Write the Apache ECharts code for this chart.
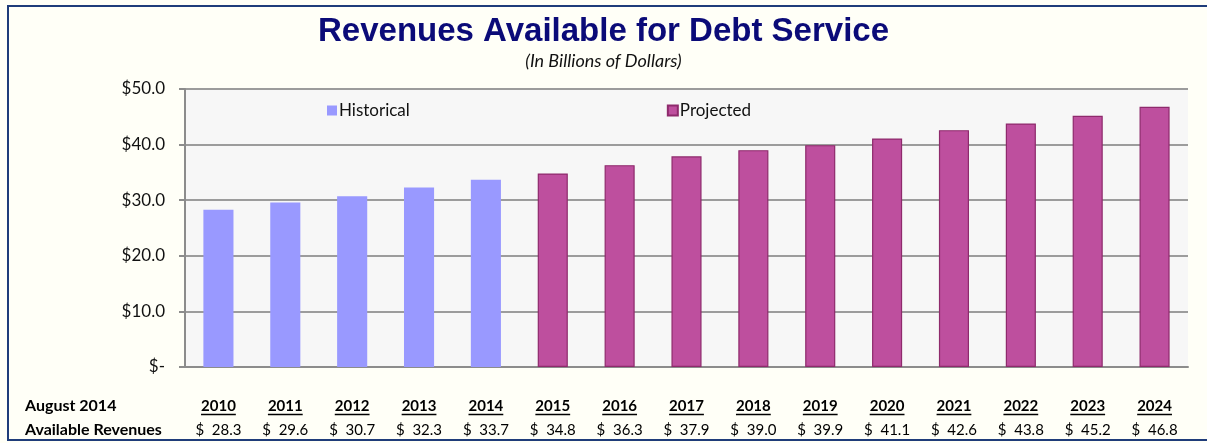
<!DOCTYPE html>
<html>
<head>
<meta charset="utf-8">
<script src="https://cdn.jsdelivr.net/npm/echarts@6/dist/echarts.min.js"></script>
<style>
  html, body { margin: 0; padding: 0; background: #FFFFF7; overflow: hidden; }
  .wrap { position: relative; width: 1207px; height: 443px; background: #FFFFF7; }
  .frame {
    position: absolute; left: 7px; top: 5px; width: 1230px; height: 432px;
    border: 2px solid #1F3C7A; border-right: none;
  }
  #chart { position: absolute; left: 0; top: 0; width: 1207px; height: 443px; }
</style>
</head>
<body>
<div class="wrap">
  <div class="frame"></div>
  <div id="chart"></div>
</div>
<script>
  // chart data
  var years = ['2010', '2011', '2012', '2013', '2014', '2015', '2016', '2017',
               '2018', '2019', '2020', '2021', '2022', '2023', '2024'];
  var historical = [28.3, 29.6, 30.7, 32.3, 33.7];              // 2010-2014
  var projected = [34.8, 36.3, 37.9, 39.0, 39.9, 41.1, 42.6, 43.8, 45.2, 46.8]; // 2015-2024
  var yTicks = ['$-', '$10.0', '$20.0', '$30.0', '$40.0', '$50.0'];
  var rowTitles = ['August 2014', 'Available Revenues'];

  var FONT = 'Lato, "Open Sans", sans-serif';
  var allValues = historical.concat(projected);

  // pad so both series sit on the same category axis
  var histData = years.map(function (y, i) { return i < historical.length ? historical[i] : '-'; });
  var projData = years.map(function (y, i) { return i >= historical.length ? projected[i - historical.length] : '-'; });

  var labelMargin = 27, lineH = 24;

  var myChart = echarts.init(document.getElementById('chart'));
  myChart.setOption({
    animation: false,
    backgroundColor: 'transparent',
    title: [{
      text: 'Revenues Available for Debt Service',
      left: 'center',
      top: 10,
      textStyle: { fontFamily: '"Liberation Sans", Arial, sans-serif', fontWeight: 'bold', fontSize: 33, color: '#0B0B78' }
    }, {
      text: '(In Billions of Dollars)',
      left: 'center',
      top: 47,
      textStyle: { fontFamily: FONT, fontStyle: 'italic', fontWeight: 'normal', fontSize: 18, color: '#111' }
    }],
    legend: {
      left: 322, top: 97,
      icon: 'rect',
      itemWidth: 10, itemHeight: 10, itemGap: 257,
      textStyle: { fontFamily: FONT, fontSize: 17, color: '#111', padding: [0, 0, 0, -3] },
      data: ['Historical', 'Projected']
    },
    grid: {
      show: true, left: 185, right: 19, top: 89, bottom: 76,
      backgroundColor: '#F7F7F7', borderWidth: 0
    },
    xAxis: {
      type: 'category',
      data: years,
      axisLine: { show: true, lineStyle: { color: '#8C8C8C', width: 2 } },
      axisTick: { show: false },
      axisLabel: {
        margin: labelMargin,
        interval: 0,
        formatter: function (val, idx) {
          return '{y|' + val + '}\n{v|$  ' + allValues[idx].toFixed(1) + '}';
        },
        rich: {
          y: { fontFamily: FONT, fontWeight: 'bold', fontSize: 15, color: '#000', lineHeight: lineH },
          v: { fontFamily: FONT, fontSize: 15, color: '#000', lineHeight: lineH }
        }
      }
    },
    yAxis: {
      type: 'value',
      min: 0, max: 50, interval: 10,
      axisLine: { show: true, lineStyle: { color: '#8C8C8C', width: 2 } },
      axisTick: { show: true, length: 6, lineStyle: { color: '#8C8C8C', width: 2 } },
      splitLine: { lineStyle: { color: '#9C9C9C', width: 2 } },
      axisLabel: {
        margin: 20,
        fontFamily: FONT, fontSize: 17, color: '#111',
        formatter: function (v) { return yTicks[v / 10]; }
      }
    },
    series: [
      {
        name: 'Historical', type: 'bar', barWidth: '45%', barGap: '-100%',
        itemStyle: { color: '#9999FF' },
        data: histData
      },
      {
        name: 'Projected', type: 'bar', barWidth: '45%',
        itemStyle: { color: '#BE4F9E', borderColor: '#8E2A6C', borderWidth: 1.2 },
        data: projData
      }
    ]
  });

  // underline the years and add the row titles, placed from the axis scales
  var ctx = document.createElement('canvas').getContext('2d');
  ctx.font = 'bold 15px ' + FONT;
  var axisY = myChart.convertToPixel({ yAxisIndex: 0 }, 0);
  var row1 = axisY + labelMargin + lineH / 2;
  var row2 = row1 + lineH;
  var graphics = [];
  years.forEach(function (y) {
    var cx = myChart.convertToPixel({ xAxisIndex: 0 }, y);
    var w = ctx.measureText(y).width;
    graphics.push({
      type: 'line', silent: true,
      shape: { x1: cx - w / 2, y1: row1 + 8.5, x2: cx + w / 2, y2: row1 + 8.5 },
      style: { stroke: '#000', lineWidth: 1.3 }
    });
  });
  [row1, row2].forEach(function (ry, i) {
    graphics.push({
      type: 'text', left: 25, top: ry - 8,
      style: { text: rowTitles[i], font: 'bold 16px ' + FONT, fill: '#000' }
    });
  });
  myChart.setOption({ graphic: graphics });
</script>
</body>
</html>
